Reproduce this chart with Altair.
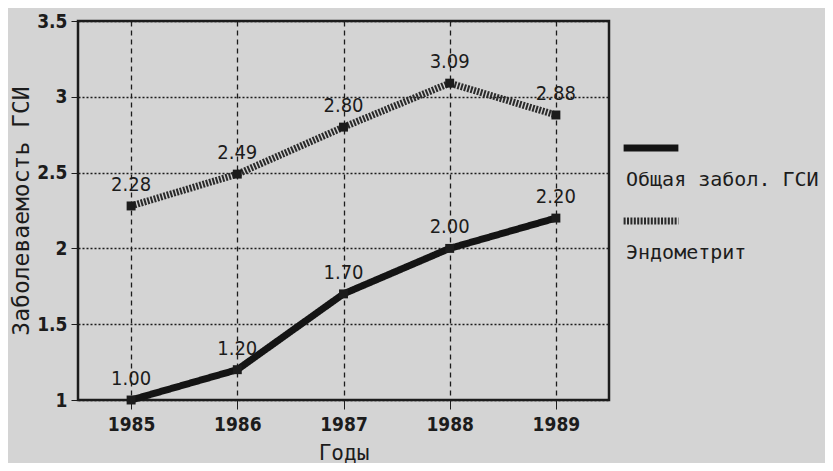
import altair as alt
import pandas as pd

years = ["1985", "1986", "1987", "1988", "1989"]
series_names = ["Общая забол. ГСИ", "Эндометрит"]
obshaya = [1.00, 1.20, 1.70, 2.00, 2.20]
endometrit = [2.28, 2.49, 2.80, 3.09, 2.88]
y_ticks = [1, 1.5, 2, 2.5, 3, 3.5]

rows = []
for s, vals in zip(series_names, [obshaya, endometrit]):
    for yr, v in zip(years, vals):
        rows.append({"year": yr, "value": v, "series": s, "label": f"{v:.2f}"})
df = pd.DataFrame(rows)

INK = "#1c1c1c"
NUM_FONT = "DejaVu Sans Condensed"
MONO = "DejaVu Sans Mono"

x_enc = alt.X(
    "year:O",
    sort=years,
    title="Годы",
    axis=alt.Axis(
        labelAngle=0, grid=True, gridDash=[5, 4], gridColor=INK, gridWidth=1.3,
        domain=False, tickColor=INK, tickSize=9, tickWidth=1,
        labelFont=NUM_FONT, labelFontSize=19, labelFontWeight="bold", labelColor=INK,
        labelPadding=6,
        titleFont=MONO, titleFontSize=21, titleColor=INK, titleFontWeight="normal",
        titlePadding=8,
    ),
)
y_enc = alt.Y(
    "value:Q",
    scale=alt.Scale(domain=[1, 3.5], nice=False, zero=False),
    title="Заболеваемость  ГСИ",
    axis=alt.Axis(
        values=y_ticks, labelExpr="toString(datum.value)",
        grid=True, gridDash=[2, 2], gridColor=INK, gridWidth=1.3,
        domain=False, tickColor=INK, tickSize=7, tickWidth=1,
        labelFont=NUM_FONT, labelFontSize=19, labelFontWeight="bold", labelColor=INK,
        labelPadding=4,
        titleFont=MONO, titleFontSize=23, titleColor=INK, titleFontWeight="normal",
        titleX=-45,
    ),
)

leg = alt.Legend(title=None, labelExpr="['', datum.label]")

lines = alt.Chart(df).mark_line(strokeWidth=7).encode(
    x=x_enc,
    y=y_enc,
    color=alt.Color("series:N", sort=series_names,
                    scale=alt.Scale(domain=series_names, range=["#141414", "#2a2a2a"]),
                    legend=leg),
    strokeDash=alt.StrokeDash("series:N", sort=series_names,
                              scale=alt.Scale(domain=series_names, range=[[1, 0], [2, 1.4]]),
                              legend=leg),
)

points = alt.Chart(df).mark_point(filled=True, shape="square", size=80, opacity=1, color=INK).encode(
    x=alt.X("year:O", sort=years),
    y="value:Q",
)

labels = alt.Chart(df).mark_text(dy=-21, font=NUM_FONT, fontSize=20, color=INK).encode(
    x=alt.X("year:O", sort=years),
    y="value:Q",
    text="label:N",
)

chart = alt.layer(lines, points, labels).properties(
    width=531,
    height=379,
    background="#d4d4d4",
    autosize=alt.AutoSizeParams(type="none"),
    padding={"left": 70, "top": 13, "right": 216, "bottom": 63},
).configure_view(
    stroke=INK, strokeWidth=2.5
).configure_legend(
    orient="none", legendX=542, legendY=96,
    symbolType="stroke", symbolSize=3000, symbolStrokeWidth=7,
    labelFont=MONO, labelFontSize=20, labelColor=INK, labelLimit=400,
    labelBaseline="top",
    labelOffset={"expr": "-56"},
    rowPadding=0,
)

chart.save("out.html", embed_options={"renderer": "svg", "actions": False})
